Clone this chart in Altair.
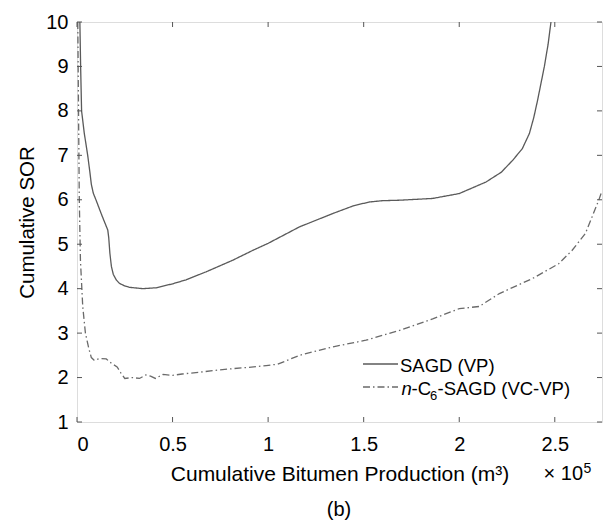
import altair as alt
import pandas as pd

# ---- data (x in units of 1e5 m3) ----
sagd_x = [0.015, 0.017, 0.019, 0.024, 0.038, 0.056, 0.068, 0.075, 0.085, 0.10, 0.13, 0.161,
          0.166, 0.172, 0.18, 0.19, 0.205, 0.222, 0.25, 0.275, 0.344, 0.414, 0.501, 0.571,
          0.676, 0.815, 0.919, 1.0, 1.164, 1.338, 1.45, 1.53, 1.6, 1.687, 1.861, 2.0, 2.14,
          2.22, 2.28, 2.33, 2.367, 2.39, 2.41, 2.445, 2.465, 2.48]
sagd_y = [10.0, 9.5, 9.0, 8.0, 7.5, 7.0, 6.6, 6.35, 6.15, 5.99, 5.65, 5.32,
          5.15, 4.8, 4.5, 4.32, 4.2, 4.12, 4.06, 4.03, 4.0, 4.02, 4.11, 4.2,
          4.38, 4.64, 4.86, 5.02, 5.39, 5.69, 5.87, 5.95, 5.98, 5.99, 6.03, 6.14, 6.40,
          6.62, 6.89, 7.15, 7.49, 7.85, 8.24, 8.99, 9.5, 10.0]

hex_x = [0.004, 0.008, 0.012, 0.018, 0.03, 0.044, 0.062, 0.075, 0.09, 0.12, 0.153, 0.18,
         0.21, 0.23, 0.25, 0.29, 0.327, 0.36, 0.385, 0.41, 0.45, 0.5, 0.55, 0.64, 0.72,
         0.815, 0.9, 0.99, 1.05, 1.164, 1.338, 1.512, 1.687, 1.861, 2.0, 2.105, 2.21,
         2.384, 2.52, 2.59, 2.66, 2.73, 2.747]
hex_y = [10.0, 8.0, 6.0, 4.64, 3.6, 3.0, 2.65, 2.45, 2.39, 2.43, 2.42, 2.32,
         2.24, 2.1, 1.98, 2.0, 1.98, 2.06, 2.03, 1.98, 2.07, 2.05, 2.08, 2.12, 2.16,
         2.2, 2.23, 2.27, 2.3, 2.5, 2.69, 2.84, 3.06, 3.32, 3.55, 3.60, 3.89,
         4.23, 4.56, 4.86, 5.24, 5.99, 6.2]

series_names = ["SAGD (VP)", "n-C6-SAGD (VC-VP)"]
x_ticks = [0, 0.5, 1, 1.5, 2, 2.5]
y_ticks = [1, 2, 3, 4, 5, 6, 7, 8, 9, 10]
x_title = ["Cumulative Bitumen Production (m³)"]
y_title = ["Cumulative SOR"]
exp_parts = ["× 10", "5"]
panel_label = ["(b)"]
leg1_text = ["SAGD (VP)"]
leg2_parts = ["n", "-C", "6", "-SAGD (VC-VP)"]

df = pd.concat([
    pd.DataFrame({"x": sagd_x, "y": sagd_y, "series": series_names[0],
                  "order": list(range(len(sagd_x)))}),
    pd.DataFrame({"x": hex_x, "y": hex_y, "series": series_names[1],
                  "order": list(range(len(hex_x)))}),
], ignore_index=True)
xt_df = pd.DataFrame({"x": x_ticks})
yt_df = pd.DataFrame({"y": y_ticks})

W, H = 525, 400
FONT = "Liberation Sans"
LINE1 = "#5a5a5a"
LINE2 = "#6a6a6a"
TICKC = "#555555"
TL = 5

xs = alt.Scale(domain=[0, 2.747], nice=False, zero=False)
ys = alt.Scale(domain=[1, 10], nice=False, zero=False)

x_axis = alt.Axis(orient="bottom", values=x_ticks, format="~g", ticks=False,
                  domain=False, grid=False, labelFontSize=20, labelPadding=12,
                  labelColor="black", labelFont=FONT,
                  title=x_title[0], titleFont=FONT, titleFontSize=21,
                  titleFontWeight="normal", titleColor="black", titlePadding=9)
y_axis = alt.Axis(orient="left", values=y_ticks, format="d", ticks=False,
                  domain=False, grid=False, labelFontSize=20, labelPadding=9,
                  labelColor="black", labelFont=FONT,
                  title=y_title[0], titleFont=FONT, titleFontSize=20.5,
                  titleFontWeight="normal", titleColor="black", titlePadding=8)

lines = alt.Chart(df).mark_line(strokeWidth=1.3, clip=True).encode(
    x=alt.X("x:Q", scale=xs, axis=x_axis),
    y=alt.Y("y:Q", scale=ys, axis=y_axis),
    strokeDash=alt.StrokeDash("series:N",
                              scale=alt.Scale(domain=series_names, range=[[1, 0], [7, 3, 1.5, 3]]),
                              legend=None),
    color=alt.Color("series:N", scale=alt.Scale(domain=series_names, range=[LINE1, LINE2]),
                    legend=None),
    order="order:Q",
)

# inward tick marks on all four sides, positioned through the shared scales
tick_bottom = alt.Chart(xt_df).mark_rule(color=TICKC, strokeWidth=1).encode(
    x=alt.X("x:Q", scale=xs, axis=x_axis), y=alt.value(H), y2=alt.value(H - TL))
tick_top = alt.Chart(xt_df).mark_rule(color=TICKC, strokeWidth=1).encode(
    x=alt.X("x:Q", scale=xs, axis=x_axis), y=alt.value(0), y2=alt.value(TL))
tick_left = alt.Chart(yt_df).mark_rule(color=TICKC, strokeWidth=1).encode(
    y=alt.Y("y:Q", scale=ys, axis=y_axis), x=alt.value(0), x2=alt.value(TL))
tick_right = alt.Chart(yt_df).mark_rule(color=TICKC, strokeWidth=1).encode(
    y=alt.Y("y:Q", scale=ys, axis=y_axis), x=alt.value(W), x2=alt.value(W - TL))


def txt(s, x, y, size=18.5, style="normal", align="left", baseline="alphabetic"):
    return alt.Chart(pd.DataFrame({"t": [s]})).mark_text(
        align=align, baseline=baseline, fontSize=size, font=FONT, fontStyle=style,
        color="black").encode(x=alt.value(x), y=alt.value(y), text="t:N")


one = pd.DataFrame({"k": [0]})
leg_solid = alt.Chart(one).mark_rule(color=LINE1, strokeWidth=1.3).encode(
    x=alt.value(286), x2=alt.value(321), y=alt.value(342))
leg_dash = alt.Chart(one).mark_rule(color=LINE2, strokeWidth=1.3, strokeDash=[7, 3, 1.5, 3]).encode(
    x=alt.value(286), x2=alt.value(321), y=alt.value(365))

layers = [
    lines,
    tick_bottom, tick_top, tick_left, tick_right,
    leg_solid,
    leg_dash,
    txt(leg1_text[0], 323, 349.5),
    txt(leg2_parts[0], 324.5, 373, style="italic"),
    txt(leg2_parts[1], 334.5, 373),
    txt(leg2_parts[2], 353, 378, size=13),
    txt(leg2_parts[3], 360.5, 373),
    txt(exp_parts[0], 506, 458, size=20, align="right"),
    txt(exp_parts[1], 506.5, 451, size=14),
    txt(panel_label[0], 262, 488, size=20, align="center", baseline="middle"),
]

chart = alt.layer(*layers).properties(
    width=W, height=H,
    autosize=alt.AutoSizeParams(type="none"),
    padding={"left": 77, "top": 22, "right": 1, "bottom": 107},
).configure_view(stroke="#444444", strokeWidth=1).configure(background="white")

chart.save("out.html", embed_options={"renderer": "svg", "actions": False})
